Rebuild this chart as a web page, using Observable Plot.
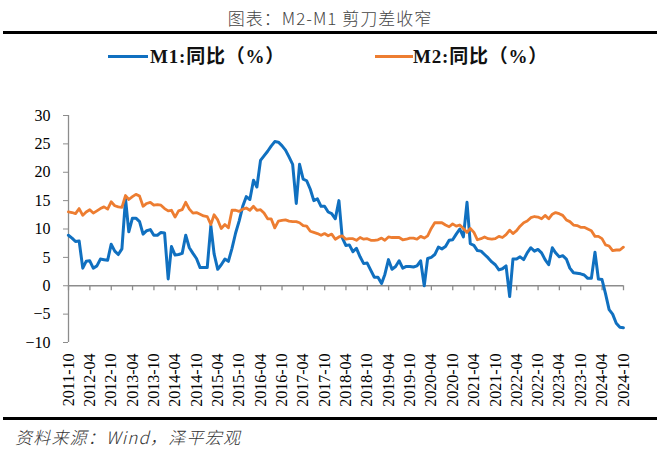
<!DOCTYPE html>
<html>
<head>
<meta charset="utf-8">
<script src="https://cdn.jsdelivr.net/npm/d3@7"></script>
<script src="https://cdn.jsdelivr.net/npm/@observablehq/plot@0.6"></script>
<style>
  body { margin: 0; background: #fff; }
  #page { position: relative; width: 660px; height: 449px; background: #fff; overflow: hidden; }
  .abs { position: absolute; }
  .rule { position: absolute; left: 3px; width: 654px; height: 3px; background: #000; }
  .lg { position: absolute; top: 44px; height: 26px; line-height: 26px; font-family: "Liberation Serif", "Noto Sans CJK SC", serif; font-weight: bold; font-size: 19px; letter-spacing: 0.8px; color: #111; white-space: nowrap; }
  .sw { position: absolute; top: 55px; height: 3px; }
</style>
</head>
<body>
<div id="page">
  <div class="abs" id="title" style="top:5px;left:0;width:660px;text-align:center;font-family:'Noto Sans CJK SC',sans-serif;font-weight:300;font-size:17px;line-height:26px;color:#444;letter-spacing:1px;"></div>
  <div class="rule" style="top:31px"></div>
  <div class="sw" id="sw1" style="left:108px;width:40px;"></div>
  <div class="lg" id="lg1" style="left:150px;"></div>
  <div class="sw" id="sw2" style="left:375px;width:38px;"></div>
  <div class="lg" id="lg2" style="left:413px;"></div>
  <div class="abs" id="chart" style="top:70px;left:0;"></div>
  <div class="rule" style="top:417px"></div>
  <div class="abs" id="caption" style="top:424px;left:15px;font-family:'Noto Sans CJK SC',sans-serif;font-style:italic;font-weight:300;font-size:17px;line-height:26px;color:#333;letter-spacing:1.2px;"></div>
</div>
<script>
// ---- texts ----
const titleText = "图表：M2-M1 剪刀差收窄";
const captionText = "资料来源：Wind，泽平宏观";
const seriesNames = ["M1:同比（%）", "M2:同比（%）"];
const seriesColors = ["#1070C0", "#ED7D31"];

// ---- categories: monthly, first month of data (values are month-end) ----
const firstMonth = "2011-09";

// ---- series values (%), 2011-09 .. 2024-09 ----
const m1 = [
  8.9, 8.4, 7.8, 7.9,
  3.1, 4.3, 4.4, 3.1, 3.5, 4.7, 4.6, 4.5, 7.3, 6.1, 5.5, 6.5,
  15.3, 9.5, 11.9, 11.9, 11.3, 9.1, 9.7, 9.9, 8.9, 8.9, 9.4, 9.3,
  1.2, 6.9, 5.4, 5.5, 5.7, 8.9, 6.7, 5.7, 4.8, 3.2, 3.2, 3.2,
  10.6, 5.6, 2.9, 3.7, 4.7, 4.3, 6.6, 9.3, 11.4, 14.0, 15.7, 15.2,
  18.6, 17.4, 22.1, 22.9, 23.7, 24.6, 25.4, 25.3, 24.7, 23.9, 22.7, 21.4,
  14.5, 21.4, 18.8, 18.5, 17.0, 15.0, 15.3, 14.0, 14.0, 13.0, 12.7, 11.8,
  15.0, 8.5, 7.1, 7.2, 6.0, 6.6, 5.1, 3.9, 4.0, 2.7, 1.5, 1.5,
  0.4, 2.0, 4.6, 2.9, 3.4, 4.4, 3.1, 3.4, 3.4, 3.3, 3.5, 4.4,
  0.0, 4.8, 5.0, 5.5, 6.8, 6.5, 6.9, 8.0, 8.1, 9.1, 10.0, 8.6,
  14.7, 7.4, 7.1, 6.2, 6.1, 5.5, 4.9, 4.2, 3.7, 2.8, 3.0, 3.5,
  -1.9, 4.7, 4.7, 5.1, 4.6, 5.8, 6.7, 6.1, 6.4, 5.8, 4.6, 3.7,
  6.7, 5.8, 5.1, 5.3, 4.7, 3.1, 2.3, 2.2, 2.1, 1.9, 1.3, 1.3,
  5.9, 1.2, 1.1, -1.4, -4.2, -5.0, -6.6, -7.3, -7.4
];
const m2 = [
  13.0, 12.9, 12.7, 13.6,
  12.4, 13.0, 13.4, 12.8, 13.2, 13.6, 13.9, 13.5, 14.8, 14.1, 13.9, 13.8,
  15.9, 15.2, 15.7, 16.1, 15.8, 14.0, 14.5, 14.7, 14.2, 14.3, 14.2, 13.6,
  13.2, 13.3, 12.1, 13.2, 13.4, 14.7, 13.5, 12.8, 12.9, 12.6, 12.3, 12.2,
  10.8, 12.5, 11.6, 10.1, 10.8, 10.2, 13.3, 13.3, 13.1, 13.5, 13.7, 13.3,
  14.0, 13.3, 13.4, 12.8, 11.8, 11.8, 10.2, 11.4, 11.5, 11.6, 11.4, 11.3,
  11.3, 11.1, 10.6, 10.5, 9.6, 9.4, 9.2, 8.9, 9.2, 8.8, 9.1, 8.2,
  8.6, 8.8, 8.2, 8.3, 8.3, 8.0, 8.5, 8.2, 8.3, 8.0, 8.0, 8.1,
  8.4, 8.0, 8.6, 8.5, 8.5, 8.5, 8.1, 8.2, 8.4, 8.4, 8.2, 8.7,
  8.4, 8.8, 10.1, 11.1, 11.1, 11.1, 10.7, 10.4, 10.9, 10.5, 10.7, 10.1,
  9.4, 10.1, 9.4, 8.1, 8.3, 8.6, 8.3, 8.2, 8.3, 8.7, 8.5, 9.0,
  9.8, 9.2, 9.7, 10.5, 11.1, 11.4, 12.0, 12.2, 12.1, 11.8, 12.4, 11.8,
  12.6, 12.9, 12.7, 12.4, 11.6, 11.3, 10.7, 10.6, 10.3, 10.3, 10.0, 9.7,
  8.7, 8.7, 8.3, 7.2, 7.0, 6.2, 6.3, 6.3, 6.8
];

// ---- tick labels ----
const xTickLabels = [
  "2011-10","2012-04","2012-10","2013-04","2013-10","2014-04","2014-10",
  "2015-04","2015-10","2016-04","2016-10","2017-04","2017-10","2018-04",
  "2018-10","2019-04","2019-10","2020-04","2020-10","2021-04","2021-10",
  "2022-04","2022-10","2023-04","2023-10","2024-04","2024-10"
];
const yTicks = [-10, -5, 0, 5, 10, 15, 20, 25, 30];

// ---- build ----
const parseMonth = d3.utcParse("%Y-%m");
const start = parseMonth(firstMonth);
// month-end date of each observation
const monthEnd = i => d3.utcDay.offset(d3.utcMonth.offset(start, i + 1), -1);
const rows = [];
m1.forEach((v, i) => rows.push({date: monthEnd(i), value: v, series: seriesNames[0]}));
m2.forEach((v, i) => rows.push({date: monthEnd(i), value: v, series: seriesNames[1]}));
const xTicks = xTickLabels.map(parseMonth);
const axisGray = "#8C8C8C";

document.getElementById("title").textContent = titleText;
document.getElementById("caption").textContent = captionText;
document.getElementById("lg1").textContent = seriesNames[0];
document.getElementById("lg2").textContent = seriesNames[1];
document.getElementById("sw1").style.background = seriesColors[0];
document.getElementById("sw2").style.background = seriesColors[1];

const chart = Plot.plot({
  width: 660,
  height: 344,
  marginLeft: 68,
  marginRight: 37,
  marginTop: 45,
  marginBottom: 72,
  style: {fontFamily: "'Liberation Serif', serif", fontSize: "16px", color: "#000", background: "#fff", overflow: "visible"},
  x: {type: "utc", domain: [xTicks[0], xTicks[xTicks.length - 1]]},
  y: {domain: [yTicks[0], yTicks[yTicks.length - 1]]},
  color: {domain: seriesNames, range: seriesColors},
  marks: [
    Plot.ruleX([xTicks[0]], {y1: yTicks[0], y2: yTicks[yTicks.length - 1], stroke: axisGray, strokeWidth: 1.3}),
    Plot.ruleY([0], {stroke: axisGray, strokeWidth: 1.3}),
    Plot.ruleX(xTicks, {y1: 0, y2: 0, insetBottom: -5, stroke: axisGray, strokeWidth: 1.3}),
    Plot.axisY({ticks: yTicks, tickSize: 5, tickPadding: 13, stroke: axisGray, fill: "#000", label: null}),
    Plot.axisX({ticks: xTicks, tickSize: 0, tickPadding: 11, tickRotate: -90, tickFormat: d3.utcFormat("%Y-%m"), fill: "#000", label: null}),
    Plot.line(rows.filter(d => d.series === seriesNames[0]), {x: "date", y: "value", stroke: "series", strokeWidth: 3, strokeLinejoin: "round"}),
    Plot.line(rows.filter(d => d.series === seriesNames[1]), {x: "date", y: "value", stroke: "series", strokeWidth: 2.8, strokeLinejoin: "round"})
  ]
});
document.getElementById("chart").appendChild(chart);
</script>
</body>
</html>
